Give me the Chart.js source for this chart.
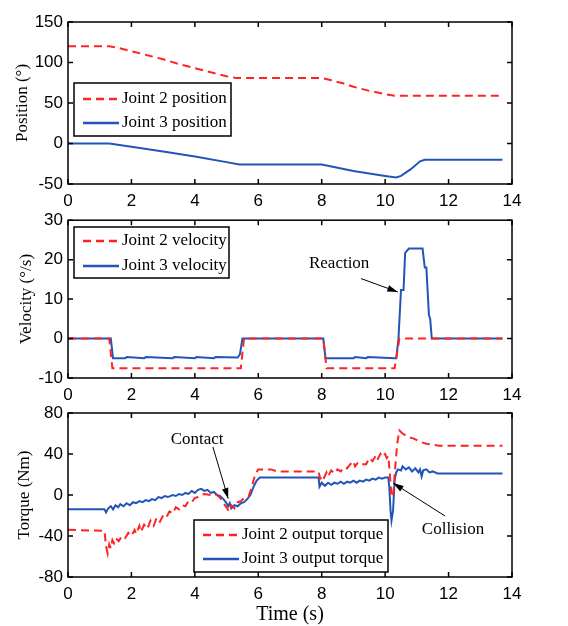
<!DOCTYPE html>
<html>
<head>
<meta charset="utf-8">
<script src="https://cdn.jsdelivr.net/npm/chart.js@4.4.1/dist/chart.umd.min.js"></script>
<style>
  body { margin: 0; background: #fff; }
  #wrap { position: relative; width: 568px; height: 626px; }
  canvas { position: absolute; left: 0; }
</style>
</head>
<body>
<div id="wrap">
  <canvas id="posChart" width="568" height="215" style="top:0px"></canvas>
  <canvas id="velChart" width="568" height="200" style="top:205px"></canvas>
  <canvas id="tqChart" width="568" height="231" style="top:395px"></canvas>
</div>
<script>
// 공통 축 눈금
const timeTicks = [0, 2, 4, 6, 8, 10, 12, 14];
const posTicks = [-50, 0, 50, 100, 150];
const velTicks = [-10, 0, 10, 20, 30];
const tqTicks = [-80, -40, 0, 40, 80];

// Position
const j2PosT = [0, 1.3, 1.6, 2, 2.5, 3, 3.5, 4, 4.5, 5, 5.3, 8, 8.3, 8.7, 9, 9.5, 10, 10.3, 13.7];
const j2PosV = [120, 120, 118, 114, 109, 104, 98, 93, 88, 83, 81, 81, 78, 74, 70, 65, 61, 59, 59];
const j3PosT = [0, 1.3, 2, 3, 4, 5, 5.4, 8, 8.5, 9, 9.5, 10, 10.35, 10.5, 10.8, 11.1, 11.25, 13.7];
const j3PosV = [0, 0, -4, -10, -16, -23, -26, -26, -30, -34, -37, -40, -42, -40, -32, -22, -20, -20];

// Velocity
const j2VelT = [0, 1.3, 1.4, 5.45, 5.55, 8.05, 8.15, 10.3, 10.45, 13.7];
const j2VelV = [0, 0, -7.5, -7.5, 0, 0, -7.5, -7.5, 0, 0];
const j3VelT = [0, 1.35, 1.42, 1.8, 1.85, 2.4, 2.45, 3.3, 3.35, 4.0, 4.05, 4.6, 4.65, 5.35, 5.42, 5.5, 8.05, 8.12, 9.0, 9.05, 9.4, 9.45, 10.3, 10.35, 10.42, 10.5, 10.58, 10.63, 10.75, 11.18, 11.25, 11.3, 11.38, 11.42, 11.47, 13.7];
const j3VelV = [0, 0, -5, -5, -4.7, -5, -4.7, -5, -4.7, -5, -4.7, -5, -4.7, -4.8, -4, 0, 0, -5, -5, -4.7, -5, -4.7, -5, -5, 0, 12.3, 12.3, 21.7, 22.8, 22.8, 18, 18, 6, 5, 0, 0];

// Torque
const j2TqT = [0, 1.1, 1.15, 1.2, 1.25, 1.3, 1.35, 1.4, 1.45, 1.5, 1.6, 1.7, 1.8, 1.9, 2.0, 2.1, 2.15, 2.25, 2.3, 2.4, 2.5, 2.6, 2.7, 2.8, 2.9, 3.0, 3.1, 3.2, 3.3, 3.4, 3.5, 3.6, 3.7, 3.8, 3.9, 4.0, 4.1, 4.2, 4.3, 4.5, 4.7, 4.8, 4.9, 5.0, 5.07, 5.15, 5.25, 5.35, 5.45, 5.55, 5.7, 5.8, 5.9, 6.0, 6.4, 6.6, 7.9, 7.95, 8.0, 8.05, 8.15, 8.2, 8.3, 8.4, 8.5, 8.6, 8.7, 8.8, 8.9, 9.0, 9.05, 9.15, 9.25, 9.4, 9.5, 9.6, 9.7, 9.75, 9.85, 9.9, 10.0, 10.05, 10.1, 10.15, 10.2, 10.25, 10.3, 10.38, 10.45, 10.55, 10.7, 10.9, 11.1, 11.3, 11.5, 11.7, 13.7];
const j2TqV = [-34, -35, -35, -50, -57, -48, -52, -44, -47, -42, -45, -40, -42, -37, -40, -34, -38, -30, -36, -29, -33, -25, -30, -22, -26, -20, -22, -16, -18, -12, -14, -10, -11, -6, -7, -3, -2, 0, 1, 0, 0, -3, -8, -12, -16, -10, -13, -7, -6, -3, -1, 8, 20, 25, 25, 23, 23, 16, 18, 15, 22, 18, 24, 21, 25, 23, 27, 26, 30, 33, 28, 32, 30, 30, 36, 33, 38, 34, 40, 37, 40, 36, 38, 20, 0, -2, 20, 50, 63, 60, 57, 55, 52, 50, 49, 48, 48];
const j3TqT = [0, 1.15, 1.2, 1.27, 1.35, 1.42, 1.5, 1.58, 1.65, 1.75, 1.85, 1.95, 2.05, 2.15, 2.25, 2.35, 2.45, 2.55, 2.65, 2.75, 2.85, 2.95, 3.05, 3.15, 3.3, 3.4, 3.5, 3.6, 3.7, 3.8, 3.9, 4.0, 4.1, 4.2, 4.3, 4.4, 4.5, 4.6, 4.7, 4.8, 4.9, 5.0, 5.05, 5.1, 5.15, 5.25, 5.35, 5.45, 5.55, 5.65, 5.75, 5.85, 5.95, 6.05, 6.2, 7.9, 7.93, 8.0, 8.1, 8.2, 8.3, 8.4, 8.5, 8.6, 8.7, 8.8, 8.9, 9.0, 9.1, 9.2, 9.3, 9.4, 9.5, 9.6, 9.7, 9.8, 9.9, 10.0, 10.1, 10.13, 10.17, 10.2, 10.25, 10.3, 10.35, 10.4, 10.5, 10.55, 10.65, 10.75, 10.85, 10.95, 11.05, 11.1, 11.15, 11.2, 11.3, 11.4, 11.5, 11.65, 13.7];
const j3TqV = [-14, -14, -17, -13, -11, -14, -10, -12, -9, -11, -8, -10, -7, -8, -6, -7, -5, -6, -4, -5, -2, -3, -1, -2, 0, -1, 1, 0, 2, 1, 4, 2, 5, 6, 4, 5, 2, 3, 0, -1, -4, -8, -11, -8, -13, -10, -11, -8, -7, -4, 0, 8, 14, 17, 17, 17, 8, 12, 9, 12, 10, 12, 11, 13, 11, 13, 12, 14, 12, 14, 13, 15, 14, 16, 15, 17, 16, 17, 17, 8, -15, -25, -15, 15, 22, 25, 24, 28, 25, 27, 23, 26, 22, 25, 18, 24, 25, 22, 23, 21, 21];

const RED = 'rgb(255, 35, 35)';
const BLUE = 'rgb(35, 85, 185)';
const SERIF = '"Liberation Serif", "DejaVu Serif", serif';
const SANS = '"Liberation Sans", Arial, sans-serif';

function toXY(ts, vs) {
    return ts.map((t, i) => ({ x: t, y: vs[i] }));
}

// 상자 + 안쪽 눈금 (MATLAB 스타일)
const boxPlugin = {
    id: 'box',
    afterDraw(chart) {
        const { ctx, chartArea: a, scales: { x, y } } = chart;
        ctx.save();
        ctx.strokeStyle = '#000';
        ctx.lineWidth = 1.5;
        ctx.strokeRect(a.left, a.top, a.right - a.left, a.bottom - a.top);
        ctx.beginPath();
        x.ticks.forEach(t => {
            const px = x.getPixelForValue(t.value);
            ctx.moveTo(px, a.bottom); ctx.lineTo(px, a.bottom - 5);
            ctx.moveTo(px, a.top); ctx.lineTo(px, a.top + 5);
        });
        y.ticks.forEach(t => {
            const py = y.getPixelForValue(t.value);
            ctx.moveTo(a.left, py); ctx.lineTo(a.left + 5, py);
            ctx.moveTo(a.right, py); ctx.lineTo(a.right - 5, py);
        });
        ctx.stroke();

        // 범례
        const lg = chart.options.plugins.boxLegend;
        if (lg) {
            const ox = lg.x, oy = lg.y - chart.canvas.offsetTop;
            ctx.fillStyle = '#fff';
            ctx.fillRect(ox, oy, lg.w, lg.h);
            ctx.lineWidth = 1.5;
            ctx.strokeStyle = '#000';
            ctx.strokeRect(ox, oy, lg.w, lg.h);
            ctx.font = '17px ' + SERIF;
            ctx.textBaseline = 'middle';
            chart.data.datasets.forEach((ds, i) => {
                const ly = oy + lg.first + i * lg.gap;
                ctx.save();
                ctx.strokeStyle = ds.borderColor;
                ctx.lineWidth = 2.5;
                ctx.setLineDash(ds.borderDash || []);
                ctx.beginPath();
                ctx.moveTo(ox + 9, ly); ctx.lineTo(ox + 45, ly);
                ctx.stroke();
                ctx.restore();
                ctx.fillStyle = '#000';
                ctx.fillText(ds.label, ox + 48, ly);
            });
        }

        // 주석 (화살표)
        (chart.options.plugins.notes || []).forEach(n => {
            const tx = x.getPixelForValue(n.text[0]), ty = y.getPixelForValue(n.text[1]);
            const x0 = x.getPixelForValue(n.from[0]), y0 = y.getPixelForValue(n.from[1]);
            const x1 = x.getPixelForValue(n.to[0]), y1 = y.getPixelForValue(n.to[1]);
            ctx.fillStyle = '#000';
            ctx.font = '17px ' + SERIF;
            ctx.textAlign = 'center';
            ctx.textBaseline = 'middle';
            ctx.fillText(n.label, tx, ty);
            ctx.lineWidth = 1;
            ctx.beginPath();
            ctx.moveTo(x0, y0); ctx.lineTo(x1, y1);
            ctx.stroke();
            const ang = Math.atan2(y1 - y0, x1 - x0);
            ctx.beginPath();
            ctx.moveTo(x1, y1);
            ctx.lineTo(x1 - 11 * Math.cos(ang - 0.3), y1 - 11 * Math.sin(ang - 0.3));
            ctx.lineTo(x1 - 11 * Math.cos(ang + 0.3), y1 - 11 * Math.sin(ang + 0.3));
            ctx.closePath();
            ctx.fill();
        });
        ctx.restore();
    }
};

function makeChart(id, cfg) {
    const datasets = cfg.series.map(s => ({
        label: s.label,
        data: toXY(s.t, s.v),
        borderColor: s.color,
        borderWidth: 2,
        borderDash: s.dash ? [8, 5] : [],
        pointRadius: 0,
        tension: 0,
        fill: false
    }));
    return new Chart(document.getElementById(id), {
        type: 'line',
        data: { datasets: datasets },
        plugins: [boxPlugin],
        options: {
            responsive: false,
            animation: false,
            layout: { padding: { left: 0, right: 56, top: cfg.padTop, bottom: 0 } },
            plugins: {
                legend: { display: false },
                tooltip: { enabled: false },
                boxLegend: cfg.legend,
                notes: cfg.notes
            },
            scales: {
                x: {
                    type: 'linear', min: 0, max: 14,
                    afterBuildTicks: s => { s.ticks = timeTicks.map(v => ({ value: v })); },
                    afterFit: s => { s.height = cfg.xHeight; },
                    grid: { display: false, drawTicks: false },
                    border: { display: false },
                    ticks: { font: { family: SANS, size: 17 }, color: '#000', padding: 7, maxRotation: 0 },
                    title: cfg.xTitle ? { display: true, text: cfg.xTitle, color: '#000', font: { family: SERIF, size: 20, lineHeight: 1 }, padding: { top: 0, bottom: 1 } } : { display: false }
                },
                y: {
                    type: 'linear', min: cfg.yTicks[0], max: cfg.yTicks[cfg.yTicks.length - 1],
                    afterBuildTicks: s => { s.ticks = cfg.yTicks.map(v => ({ value: v })); },
                    afterFit: s => { s.width = 68; },
                    grid: { display: false, drawTicks: false },
                    border: { display: false },
                    ticks: { font: { family: SANS, size: 17 }, color: '#000', padding: 5 },
                    title: { display: true, text: cfg.yTitle, color: '#000', font: { family: SERIF, size: 17 }, padding: { top: cfg.yTitlePad, bottom: 0 } }
                }
            }
        }
    });
}

makeChart('posChart', {
    padTop: 22, xHeight: 31, yTicks: posTicks, yTitle: 'Position (°)', yTitlePad: 12,
    series: [
        { label: 'Joint 2 position', t: j2PosT, v: j2PosV, color: RED, dash: true },
        { label: 'Joint 3 position', t: j3PosT, v: j3PosV, color: BLUE, dash: false }
    ],
    legend: { x: 74, y: 83, w: 157, h: 53, first: 16, gap: 24 },
    notes: []
});

makeChart('velChart', {
    padTop: 14, xHeight: 27, yTicks: velTicks, yTitle: 'Velocity (°/s)', yTitlePad: 16,
    series: [
        { label: 'Joint 2 velocity', t: j2VelT, v: j2VelV, color: RED, dash: true },
        { label: 'Joint 3 velocity', t: j3VelT, v: j3VelV, color: BLUE, dash: false }
    ],
    legend: { x: 74, y: 227, w: 155, h: 51, first: 14, gap: 25 },
    notes: [{ label: 'Reaction', text: [8.55, 18.9], from: [9.24, 15.2], to: [10.4, 11.8] }]
});

makeChart('tqChart', {
    padTop: 18, xHeight: 49, yTicks: tqTicks, yTitle: 'Torque (Nm)', yTitlePad: 14, xTitle: 'Time (s)',
    series: [
        { label: 'Joint 2 output torque', t: j2TqT, v: j2TqV, color: RED, dash: true },
        { label: 'Joint 3 output torque', t: j3TqT, v: j3TqV, color: BLUE, dash: false }
    ],
    legend: { x: 194, y: 520, w: 194, h: 52, first: 15, gap: 24 },
    notes: [
        { label: 'Contact', text: [4.07, 53.7], from: [4.57, 46.8], to: [5.05, -3.5] },
        { label: 'Collision', text: [12.14, -34], from: [11.89, -20.5], to: [10.25, 11.7] }
    ]
});
</script>
</body>
</html>
